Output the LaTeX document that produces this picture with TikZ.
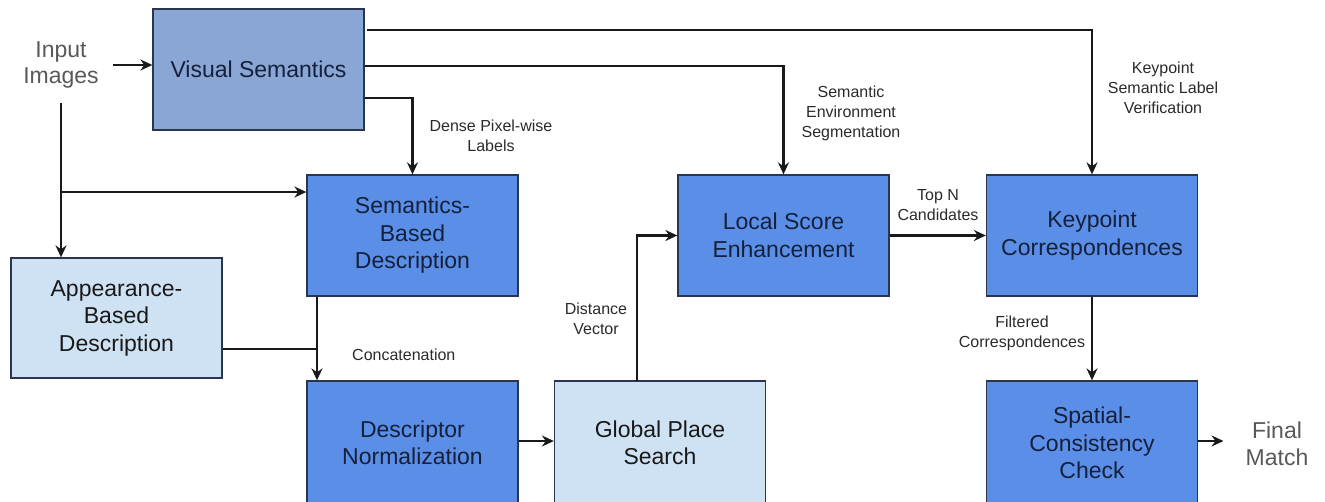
\documentclass[tikz,border=0pt]{standalone}
\usepackage{fontspec}
\setmainfont{Liberation Sans}
\usetikzlibrary{arrows.meta,calc}
\definecolor{vsfill}{HTML}{8AA6D4}
\definecolor{midfill}{HTML}{5B8EE6}
\definecolor{lightfill}{HTML}{CFE2F3}
\definecolor{boxline}{HTML}{2A3550}
\definecolor{boxtext}{HTML}{14203C}
\definecolor{lbl}{HTML}{2A2A2A}
\definecolor{io}{HTML}{595959}
\tikzset{
  box/.style={draw=boxline, line width=1.3pt, minimum width=211pt, minimum height=121pt,
    inner sep=0pt, align=center, text=boxtext, font=\fontsize{23}{27.5}\selectfont},
  vsbox/.style={box, fill=vsfill},
  midbox/.style={box, fill=midfill},
  lightbox/.style={box, fill=lightfill, text=black!90},
  conn/.style={line width=2.1pt, draw=black!90},
  arr/.style={conn, -{Stealth[length=12pt,width=11pt,inset=4pt]}},
  smalllbl/.style={align=center, text=lbl, font=\fontsize{16}{20}\selectfont, inner sep=0pt},
  iolbl/.style={align=center, text=io, font=\fontsize{23}{26.5}\selectfont, inner sep=0pt}
}
\begin{document}
\begin{tikzpicture}[x=1pt,y=-1pt]
\useasboundingbox (0,0) rectangle (1325,501);
% boxes
\node[vsbox] (vs) at (258.5,69.5) {Visual Semantics};
\node[midbox] (sbd) at (412.5,235.5) {Semantics-\\Based\\Description};
\node[lightbox, minimum height=120pt] (abd) at (116.5,318) {Appearance-\\Based\\Description};
\node[midbox, minimum height=124pt] (dn) at (412.5,443) {Descriptor\\Normalization};
\node[lightbox, minimum height=124pt] (gps) at (660,443) {Global Place\\Search};
\node[midbox] (lse) at (783.5,235.5) {Local Score\\Enhancement};
\node[midbox] (kc) at (1092,235.5) {Keypoint\\Correspondences};
\node[midbox, minimum height=124pt] (scc) at (1092,443) {Spatial-\\Consistency\\Check};
% input / output texts
\node[iolbl] (in) at (61,65) {Input\\Images};
\node[iolbl] (fm) at (1277,444) {Final\\Match};
% helper coordinates
\coordinate (inb) at (61,103);
\coordinate (br) at (61,192);
\coordinate (cj) at (317,349);
\coordinate (dv) at (637,381);
% connectors
\draw[arr] ([xshift=14pt]in.east) -- (in.east -| vs.west);
\draw[arr] (inb) -- (inb |- abd.north);
\draw[arr] (br) -- (br -| sbd.west);
\draw[arr] ($(vs.north east)+(2,22)$) -| (kc.north);
\draw[arr] ($(vs.east)+(0,-3.5)$) -| (lse.north);
\draw[arr] ($(vs.south east)+(0,-33)$) -| (sbd.north);
\draw[conn] (cj -| abd.east) -- (cj);
\draw[arr] (cj |- sbd.south) -- (cj |- dn.north);
\draw[arr] (dn.east |- 0,441) -- (gps.west |- 0,441);
\draw[arr] (dv) |- (lse.west);
\draw[arr] (lse.east) -- (kc.west);
\draw[arr] (kc.south) -- (scc.north);
\draw[arr] (scc.east |- 0,441) -- ([xshift=-22pt]fm.west |- 0,441);
% connector labels
\node[smalllbl] (l1) at (491,136) {Dense Pixel-wise\\Labels};
\node[smalllbl] (l2) at (851,113) {Semantic\\Environment\\Segmentation};
\node[smalllbl] (l3) at (1163,88) {Keypoint\\Semantic Label\\Verification};
\node[smalllbl, anchor=west] (l4) at (352,355) {Concatenation};
\node[smalllbl] (l5) at (596,319) {Distance\\Vector};
\node[smalllbl] (l6) at (938,205) {Top N\\Candidates};
\node[smalllbl] (l7) at (1022,333) {Filtered\\Correspondences};
\end{tikzpicture}
\end{document}
